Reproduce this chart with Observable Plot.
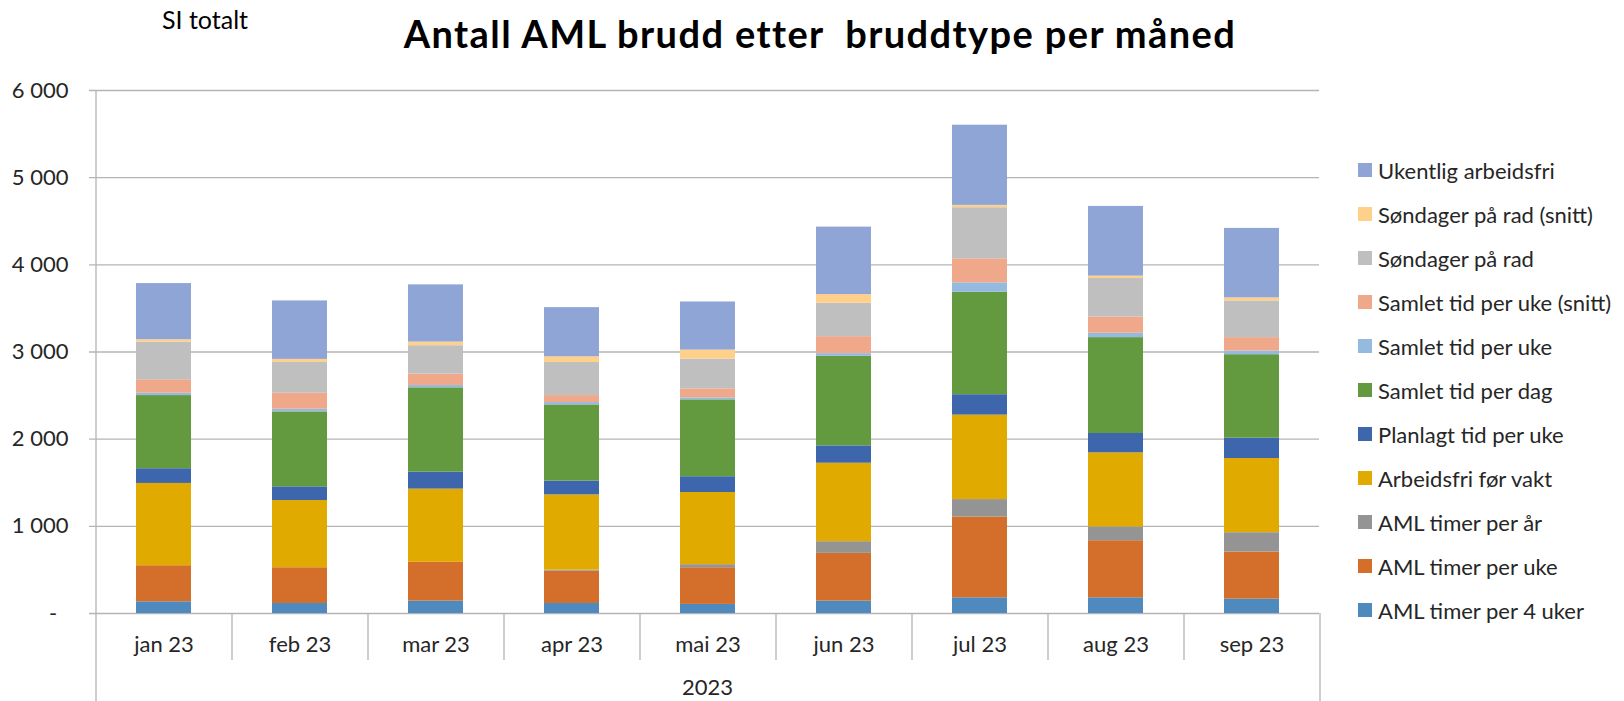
<!DOCTYPE html>
<html>
<head>
<meta charset="utf-8">
<script src="https://cdn.jsdelivr.net/npm/d3@7"></script>
<script src="https://cdn.jsdelivr.net/npm/@observablehq/plot@0.6"></script>
<style>
  body { margin: 0; background: #fff; font-family: Lato, "Open Sans", sans-serif; }
  #wrap { position: relative; width: 1624px; height: 701px; overflow: hidden; }
  #header { position: relative; height: 60px; }
  #title { position: absolute; left: 0; top: 14px; width: 1640px; text-align: center;
           font-size: 38px; line-height: 38px; font-weight: 700; letter-spacing: 1.4px; color: #000; white-space: pre; }
  #sub { position: absolute; left: 162px; top: 7px; font-size: 25px; line-height: 25px; color: #000; }
  #legend { position: absolute; left: 1358px; top: 148px; }
  .row { height: 44px; display: flex; align-items: center; font-size: 22px; color: #262626; white-space: nowrap; }
  .sw { width: 14px; height: 14px; margin-right: 6px; flex: none; }
</style>
</head>
<body>
<div id="wrap">
  <div id="header">
    <div id="sub">SI totalt</div>
    <div id="title">Antall AML brudd etter  bruddtype per måned</div>
  </div>
  <div id="chart"></div>
  <div id="legend"></div>
</div>
<script>
// ---- data ----
const months = ["jan 23", "feb 23", "mar 23", "apr 23", "mai 23", "jun 23", "jul 23", "aug 23", "sep 23"];
const yearLabel = "2023";
const series = [
  "AML timer per 4 uker",
  "AML timer per uke",
  "AML timer per år",
  "Arbeidsfri før vakt",
  "Planlagt tid per uke",
  "Samlet tid per dag",
  "Samlet tid per uke",
  "Samlet tid per uke (snitt)",
  "Søndager på rad",
  "Søndager på rad (snitt)",
  "Ukentlig arbeidsfri"
];
const amlTimerPer4Uker      = [134, 115, 142, 115, 104, 142, 180, 180, 165];
const amlTimerPerUke        = [414, 410, 445, 372, 421, 548, 927, 655, 540];
const amlTimerPerAar        = [0, 0, 0, 12, 35, 134, 200, 157, 222];
const arbeidsfriForVakt     = [944, 771, 840, 862, 828, 900, 969, 851, 851];
const planlagtTidPerUke     = [169, 157, 195, 158, 181, 199, 234, 222, 233];
const samletTidPerDag       = [839, 860, 967, 874, 882, 1027, 1176, 1100, 958];
const samletTidPerUke       = [27, 30, 27, 27, 23, 31, 107, 50, 42];
const samletTidPerUkeSnitt  = [154, 184, 130, 80, 103, 195, 276, 187, 154];
const sondagerPaaRad        = [433, 353, 326, 380, 341, 383, 586, 441, 421];
const sondagerPaaRadSnitt   = [27, 35, 42, 65, 104, 100, 27, 27, 35];
const ukentligArbeidsfri    = [644, 671, 656, 564, 552, 774, 920, 800, 797];
const yTicks = [0, 1000, 2000, 3000, 4000, 5000, 6000];
const colors = ["#4E8ABE", "#D36F2B", "#949494", "#E0AA00", "#3D66AD", "#63993F",
                "#95BAE0", "#F0A88A", "#BFBFBF", "#FFD08A", "#8FA5D5"];

const seriesValues = [amlTimerPer4Uker, amlTimerPerUke, amlTimerPerAar, arbeidsfriForVakt,
  planlagtTidPerUke, samletTidPerDag, samletTidPerUke, samletTidPerUkeSnitt,
  sondagerPaaRad, sondagerPaaRadSnitt, ukentligArbeidsfri];

const data = [];
months.forEach((m, i) => {
  series.forEach((s, j) => data.push({month: m, series: s, value: seriesValues[j][i]}));
});

// ---- layout ----
const W = 1624, H = 641;
const mL = 95, mR = 305, mT = 30, mB = 88;
const step = (W - mL - mR) / months.length;
const gridColor = "#B4B4B4";
const fmt = d => d === 0 ? "-\u00a0\u00a0" : d3.format(",")(d).replace(/,/g, " ");

const chart = Plot.plot({
  width: W, height: H,
  marginLeft: mL, marginRight: mR, marginTop: mT, marginBottom: mB,
  style: {fontFamily: "Lato, 'Open Sans', sans-serif", background: "#fff"},
  x: {domain: months, paddingInner: 0.596, paddingOuter: 0.298, label: null},
  y: {domain: [0, 6000], label: null},
  color: {domain: series, range: colors},
  marks: [
    Plot.ruleY(yTicks, {stroke: gridColor, strokeWidth: 1.3, insetLeft: -6}),
    Plot.barY(data, {x: "month", y: "value", fill: "series", order: null}),
    // left axis line, extended to the bottom
    Plot.ruleX([months[0]], {x: d => d, dx: -step / 2, y1: () => 6000, y2: () => 0, insetBottom: -mB, stroke: gridColor, strokeWidth: 1.3}),
    // right outer line below axis
    Plot.ruleX([months[months.length - 1]], {x: d => d, dx: step / 2, y1: () => 0, y2: () => 0, insetBottom: -mB, stroke: gridColor, strokeWidth: 1.3}),
    // month separators
    Plot.ruleX(months.slice(1), {x: d => d, dx: -step / 2, y1: () => 0, y2: () => 0, insetBottom: -47, stroke: gridColor, strokeWidth: 1.3}),
    Plot.axisY(yTicks, {tickSize: 0, tickPadding: 27, tickFormat: fmt, fontSize: 22, fill: "#262626"}),
    Plot.axisX({tickSize: 0, tickPadding: 23, fontSize: 22, fill: "#262626"}),
    Plot.text([yearLabel], {frameAnchor: "bottom", text: d => d, dy: 81, lineAnchor: "bottom", fontSize: 22, fill: "#262626"})
  ]
});
document.getElementById("chart").appendChild(chart);

// ---- legend (top to bottom = reversed stack order) ----
const legend = d3.select("#legend");
series.slice().reverse().forEach(s => {
  const row = legend.append("div").attr("class", "row");
  row.append("div").attr("class", "sw").style("background", colors[series.indexOf(s)]);
  row.append("span").text(s);
});
</script>
</body>
</html>
